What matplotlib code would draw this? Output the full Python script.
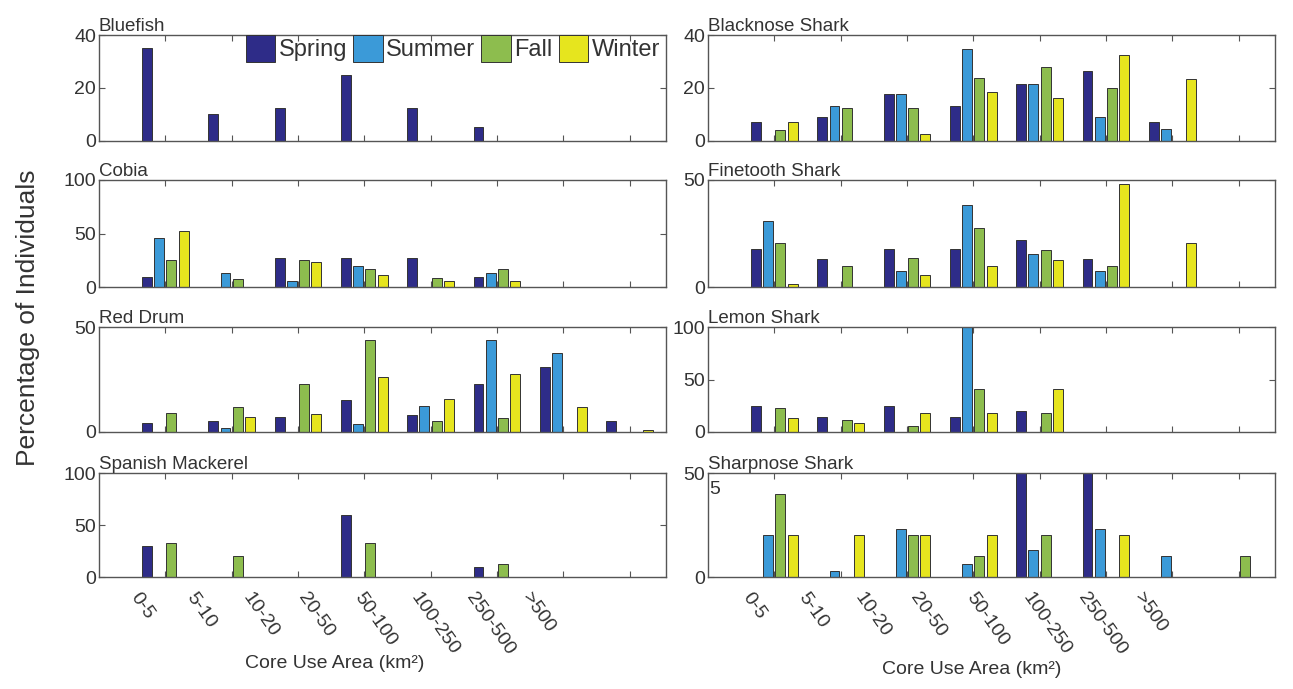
import numpy as np
import matplotlib
matplotlib.use('Agg')
import matplotlib.pyplot as plt

plt.rcParams['font.family'] = ['Liberation Sans', 'DejaVu Sans']
plt.rcParams['text.color'] = '#333333'
plt.rcParams['axes.edgecolor'] = '#555555'
plt.rcParams['xtick.color'] = '#555555'
plt.rcParams['ytick.color'] = '#555555'
plt.rcParams['xtick.labelcolor'] = '#333333'
plt.rcParams['ytick.labelcolor'] = '#333333'

categories = ['0-5', '5-10', '10-20', '20-50', '50-100', '100-250', '250-500', '>500']
seasons = ['Spring', 'Summer', 'Fall', 'Winter']
colors = ['#2e2c88', '#3b9ad8', '#8dbd4e', '#e6e51e']

# percentage of individuals per core use area class, one list per season
bluefish_spring = [35, 10, 12.5, 25, 12.5, 5, 0, 0]
bluefish_summer = [0, 0, 0, 0, 0, 0, 0, 0]
bluefish_fall = [0, 0, 0, 0, 0, 0, 0, 0]
bluefish_winter = [0, 0, 0, 0, 0, 0, 0, 0]

cobia_spring = [9, 0, 27, 27, 27, 9, 0, 0]
cobia_summer = [46, 13, 6, 19.5, 0, 13, 0, 0]
cobia_fall = [25, 7.5, 25, 17, 8, 17, 0, 0]
cobia_winter = [52.5, 0, 23, 11, 5.5, 5.5, 0, 0]

reddrum_spring = [4.3, 5.4, 7, 15.2, 8.1, 22.7, 31, 5.4]
reddrum_summer = [0, 2, 0, 4, 12.3, 43.6, 37.5, 0]
reddrum_fall = [8.9, 11.8, 22.8, 43.8, 5.1, 6.9, 0, 0]
reddrum_winter = [0, 7, 8.8, 26, 15.8, 27.6, 12.1, 1.1]

mackerel_spring = [30, 0, 0, 60, 0, 10, 0, 0]
mackerel_summer = [0, 0, 0, 0, 0, 0, 0, 0]
mackerel_fall = [33, 20, 0, 33, 0, 12.5, 0, 0]
mackerel_winter = [0, 0, 0, 0, 0, 0, 0, 0]

blacknose_spring = [7, 8.8, 17.6, 13, 21.6, 26.3, 7, 0]
blacknose_summer = [0, 13, 17.6, 34.6, 21.6, 8.8, 4.5, 0]
blacknose_fall = [4, 12.3, 12.3, 23.8, 28, 20, 0, 0]
blacknose_winter = [7, 0, 2.5, 18.5, 16.2, 32.5, 23.2, 0]

finetooth_spring = [17.6, 12.9, 17.6, 17.6, 21.9, 12.9, 0, 0]
finetooth_summer = [30.7, 0, 7.7, 38.3, 15.3, 7.7, 0, 0]
finetooth_fall = [20.4, 10, 13.7, 27.5, 17.3, 10, 0, 0]
finetooth_winter = [1.6, 0, 5.8, 10, 12.8, 48.2, 20.4, 0]

lemon_spring = [24.6, 14.4, 24.6, 14.4, 20.1, 0, 0, 0]
lemon_summer = [0, 0, 0, 100, 0, 0, 0, 0]
lemon_fall = [23.3, 11.8, 5.8, 40.9, 18.2, 0, 0, 0]
lemon_winter = [13.4, 8.6, 18.2, 18.2, 40.6, 0, 0, 0]

# spring bars at 50-100 and 100-250 run past the top of the axis
sharpnose_spring = [0, 0, 0, 0, 60, 60, 0, 0]
sharpnose_summer = [20, 3, 23.3, 6.1, 13, 23.3, 10, 0]
sharpnose_fall = [40, 0, 20, 10, 20, 0, 0, 10]
sharpnose_winter = [20, 20, 20, 20, 0, 20, 0, 0]

panels = [
    ('Bluefish', [bluefish_spring, bluefish_summer, bluefish_fall, bluefish_winter], 40, [0, 20, 40]),
    ('Cobia', [cobia_spring, cobia_summer, cobia_fall, cobia_winter], 100, [0, 50, 100]),
    ('Red Drum', [reddrum_spring, reddrum_summer, reddrum_fall, reddrum_winter], 50, [0, 50]),
    ('Spanish Mackerel', [mackerel_spring, mackerel_summer, mackerel_fall, mackerel_winter], 100, [0, 50, 100]),
    ('Blacknose Shark', [blacknose_spring, blacknose_summer, blacknose_fall, blacknose_winter], 40, [0, 20, 40]),
    ('Finetooth Shark', [finetooth_spring, finetooth_summer, finetooth_fall, finetooth_winter], 50, [0, 50]),
    ('Lemon Shark', [lemon_spring, lemon_summer, lemon_fall, lemon_winter], 100, [0, 50, 100]),
    ('Sharpnose Shark', [sharpnose_spring, sharpnose_summer, sharpnose_fall, sharpnose_winter], 50, [0, 50]),
]

W, H = 1293, 689
fig = plt.figure(figsize=(W / 100, H / 100), dpi=100)

col_left = [99, 708]
ax_w = 567
rows = [(35, 140.5), (180, 287), (327, 432), (473, 577)]
lab_start = [0.074, 0.079]

x = np.arange(1, len(categories) + 1)
bw = 0.15
step = 0.185
offsets = (np.arange(4) - 1.5) * step

axes = []
for i, (name, series, ymax, yt) in enumerate(panels):
    c = i // 4
    r = i % 4
    top, bot = rows[r]
    ax = fig.add_axes([col_left[c] / W, 1 - bot / H, ax_w / W, (bot - top) / H])
    bars = []
    for k in range(4):
        b = ax.bar(x + offsets[k], series[k], bw, color=colors[k], edgecolor='#333333',
                   linewidth=0.7, label=seasons[k])
        bars.append(b)
    ax.set_xlim(0, 8.55)
    ax.set_ylim(0, ymax)
    ax.set_yticks(yt)
    ax.set_xticks(x)
    ax.set_xticklabels([])
    ax.tick_params(direction='in', length=4.5, width=0.8, top=True, right=True,
                   labelsize=14, pad=2)
    for s in ax.spines.values():
        s.set_linewidth(1.0)
    ax.set_title(name, loc='left', fontsize=13.5, pad=2, color='#333333')
    if r == 3:
        for j, lab in enumerate(categories):
            ax.text(lab_start[c] + j * 0.0988, -0.12, lab, transform=ax.transAxes, rotation=-55,
                    rotation_mode='anchor', ha='left', va='top', fontsize=14)
    if i == 0:
        ax.legend(handles=bars, loc='upper left', bbox_to_anchor=(0.259, 1.0),
                  ncol=4, frameon=False, fontsize=17, handlelength=1.25, handleheight=1.35,
                  handletextpad=0.15, columnspacing=0.25, borderpad=0, borderaxespad=0)
    axes.append(ax)

# stray digit inside the sharpnose panel
axes[7].text(0.011, 0.846, '5', transform=axes[7].transAxes, ha='center', va='center', fontsize=14)

fig.text(28 / W, 1 - 318 / H, 'Percentage of Individuals', rotation=90, ha='center', va='center',
         fontsize=19)
fig.text(335 / W, 1 - 663 / H, 'Core Use Area (km²)', ha='center', va='center', fontsize=14)
fig.text(972 / W, 1 - 670 / H, 'Core Use Area (km²)', ha='center', va='center', fontsize=14)

plt.savefig('out.png', dpi=100)
